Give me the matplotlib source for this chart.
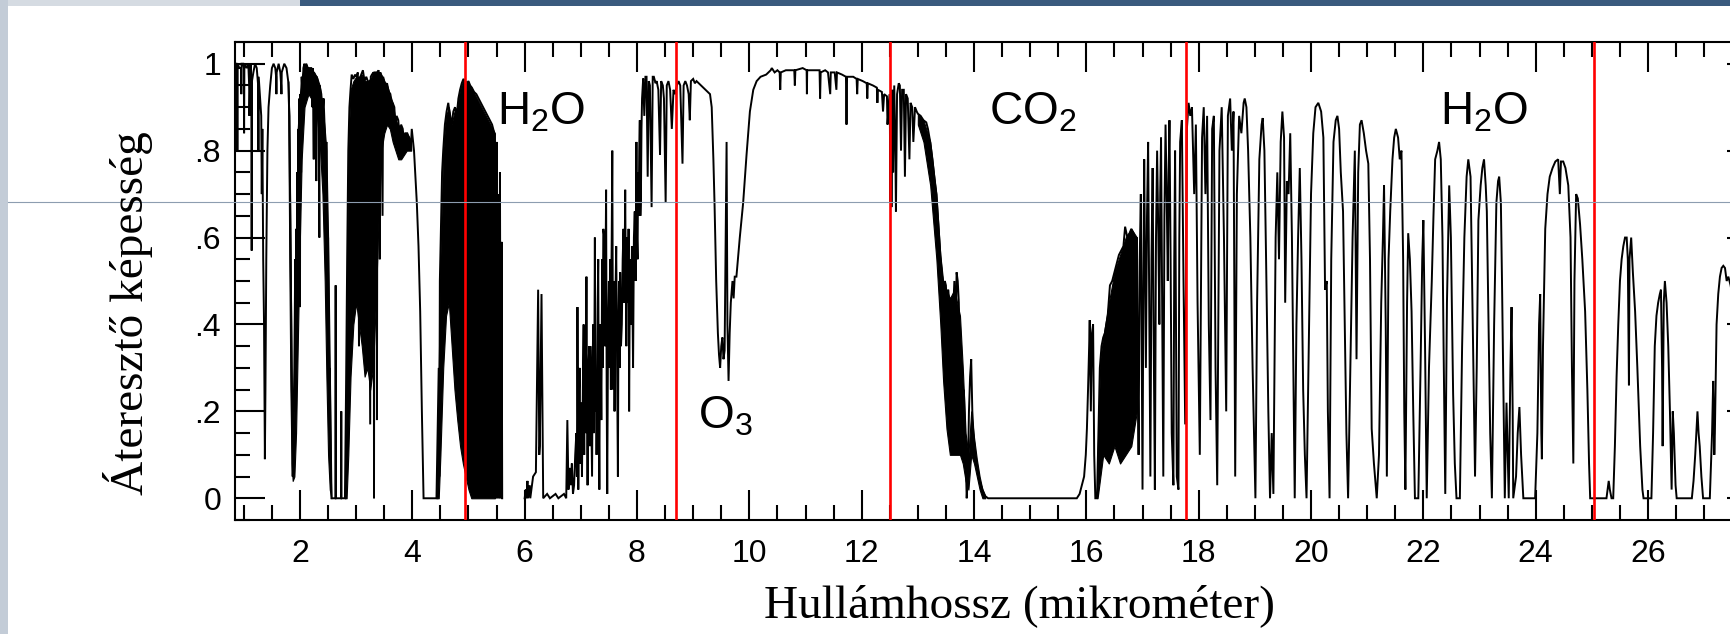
import matplotlib
matplotlib.use("Agg")
import matplotlib.pyplot as plt
from matplotlib.ticker import FixedLocator, FixedFormatter, MultipleLocator
from matplotlib.patches import Rectangle
from matplotlib.lines import Line2D

plt.rcParams['mathtext.fontset'] = 'custom'
plt.rcParams['mathtext.rm'] = 'Liberation Sans'
plt.rcParams['mathtext.it'] = 'Liberation Sans:italic'
plt.rcParams['mathtext.bf'] = 'Liberation Sans:bold'

# ---------------- data (wavelength in micrometre, transmittance) ----------------
nir_pts = [
    (0.843, 1.0), (0.87, 1.0), (0.88, 0.99), (0.885, 0.80), (0.89, 1.0), (0.92, 0.99), (0.95, 0.99),
    (0.955, 0.93), (0.96, 1.0), (0.99, 1.0), (1.00, 0.99), (1.005, 0.84), (1.01, 1.0), (1.05, 0.99),
    (1.08, 1.0), (1.095, 0.95), (1.10, 0.88), (1.12, 1.0), (1.135, 0.95), (1.14, 0.57), (1.145, 0.96),
    (1.17, 0.98), (1.20, 1.0), (1.23, 0.99), (1.255, 0.95), (1.26, 0.80), (1.265, 0.97), (1.29, 0.92),
    (1.31, 0.88), (1.32, 0.70), (1.33, 0.85), (1.345, 0.55), (1.36, 0.40), (1.375, 0.09), (1.385, 0.25),
    (1.40, 0.55), (1.42, 0.80), (1.44, 0.90), (1.47, 0.95), (1.50, 0.99), (1.53, 1.0), (1.56, 0.99),
    (1.575, 0.97), (1.58, 0.93), (1.585, 0.98), (1.62, 1.0), (1.65, 0.98), (1.665, 0.95), (1.67, 0.93),
    (1.675, 0.98), (1.72, 1.0), (1.76, 0.99), (1.79, 0.96), (1.81, 0.88), (1.83, 0.60), (1.85, 0.30),
    (1.87, 0.05), (1.88, 0.15), (1.90, 0.30), (1.915, 0.55), (1.92, 0.20), (1.93, 0.62), (1.94, 0.35),
    (1.95, 0.75), (1.96, 0.45), (1.97, 0.85), (1.98, 0.60), (1.99, 0.92), (2.00, 0.44), (2.005, 0.93),
    (2.02, 0.75), (2.03, 0.97), (2.05, 0.88), (2.06, 0.99), (2.08, 1.0), (2.10, 0.95), (2.11, 1.0),
    (2.14, 0.99), (2.16, 0.93), (2.17, 0.99), (2.20, 0.99), (2.22, 0.90), (2.23, 0.99), (2.245, 0.78),
    (2.25, 0.98), (2.28, 0.97), (2.29, 0.73), (2.30, 0.97), (2.33, 0.95), (2.345, 0.60), (2.35, 0.95),
    (2.38, 0.93), (2.40, 0.88), (2.42, 0.92), (2.44, 0.85), (2.46, 0.70), (2.47, 0.82), (2.49, 0.45),
    (2.50, 0.60), (2.52, 0.20), (2.53, 0.30), (2.55, 0.05), (2.56, 0.0),
]

mwir_pts = [
    (2.63, 0.0), (2.635, 0.49), (2.64, 0.0), (2.73, 0.0), (2.735, 0.20), (2.74, 0.0), (2.80, 0.0),
    (2.82, 0.25), (2.84, 0.55), (2.86, 0.80), (2.88, 0.90), (2.90, 0.94), (2.92, 0.975), (2.95, 0.965),
    (2.98, 0.975), (3.00, 0.97), (3.03, 0.98), (3.05, 0.35), (3.06, 0.965), (3.09, 0.975), (3.12, 0.985),
    (3.15, 0.96), (3.18, 0.97), (3.22, 0.955), (3.25, 0.17), (3.26, 0.97), (3.28, 0.975), (3.31, 0.98),
    (3.318, 0.0), (3.325, 0.98), (3.36, 0.98), (3.37, 0.18), (3.38, 0.98), (3.40, 0.985), (3.42, 0.55),
    (3.43, 0.98), (3.44, 0.975), (3.47, 0.65), (3.48, 0.97), (3.50, 0.96), (3.52, 0.95), (3.55, 0.955),
    (3.58, 0.935), (3.61, 0.93), (3.63, 0.88), (3.65, 0.91), (3.68, 0.90), (3.70, 0.85), (3.72, 0.88),
    (3.75, 0.87), (3.78, 0.82), (3.80, 0.86), (3.83, 0.85), (3.86, 0.80), (3.88, 0.84), (3.91, 0.84),
    (3.94, 0.83), (3.97, 0.80), (3.99, 0.85), (4.03, 0.80), (4.08, 0.68), (4.11, 0.58), (4.14, 0.43),
    (4.17, 0.20), (4.20, 0.0), (4.43, 0.0), (4.45, 0.15), (4.47, 0.30), (4.48, 0.05), (4.49, 0.50),
    (4.51, 0.62), (4.53, 0.75), (4.55, 0.80), (4.58, 0.86), (4.61, 0.89), (4.64, 0.91), (4.67, 0.88),
    (4.70, 0.86), (4.73, 0.89), (4.76, 0.90), (4.79, 0.88), (4.82, 0.92), (4.85, 0.94), (4.88, 0.955),
    (4.91, 0.965), (4.94, 0.96), (4.97, 0.955), (5.00, 0.96), (5.03, 0.95), (5.06, 0.945), (5.10, 0.935),
    (5.14, 0.93), (5.18, 0.92), (5.22, 0.91), (5.26, 0.90), (5.30, 0.89), (5.34, 0.88), (5.38, 0.87),
    (5.42, 0.86), (5.46, 0.84), (5.48, 0.0), (5.50, 0.82), (5.51, 0.0), (5.53, 0.70), (5.545, 0.0),
    (5.56, 0.75), (5.575, 0.0), (5.59, 0.59), (5.60, 0.0),
]

ir6_pts = [
    (6.00, 0.0), (6.02, 0.02), (6.03, 0.0), (6.05, 0.04), (6.06, 0.0), (6.09, 0.03), (6.10, 0.0),
    (6.15, 0.05), (6.20, 0.06), (6.24, 0.48), (6.26, 0.10), (6.27, 0.12), (6.30, 0.47), (6.33, 0.0),
    (6.40, 0.01), (6.45, 0.0), (6.55, 0.01), (6.60, 0.0), (6.70, 0.01), (6.74, 0.0), (6.76, 0.18),
    (6.78, 0.02), (6.80, 0.07), (6.82, 0.03), (6.84, 0.08), (6.86, 0.01), (6.88, 0.03), (6.90, 0.10),
    (6.92, 0.15), (6.93, 0.05), (6.94, 0.44), (6.955, 0.02), (6.97, 0.25), (6.98, 0.30), (6.99, 0.08),
    (7.00, 0.10), (7.01, 0.22), (7.02, 0.05), (7.04, 0.30), (7.05, 0.40), (7.06, 0.10), (7.07, 0.39),
    (7.085, 0.15), (7.10, 0.51), (7.11, 0.20), (7.12, 0.03), (7.135, 0.30), (7.15, 0.35), (7.16, 0.12),
    (7.17, 0.35), (7.185, 0.20), (7.20, 0.05), (7.21, 0.30), (7.22, 0.40), (7.235, 0.15), (7.25, 0.60),
    (7.26, 0.20), (7.27, 0.28), (7.28, 0.10), (7.29, 0.25), (7.30, 0.45), (7.31, 0.55), (7.32, 0.20),
    (7.33, 0.02), (7.34, 0.35), (7.35, 0.40), (7.365, 0.18), (7.38, 0.55), (7.39, 0.30), (7.40, 0.62),
    (7.42, 0.60), (7.43, 0.35), (7.45, 0.71), (7.46, 0.25), (7.47, 0.01), (7.485, 0.40), (7.50, 0.50),
    (7.51, 0.30), (7.52, 0.55), (7.535, 0.25), (7.54, 0.45), (7.55, 0.60), (7.56, 0.80), (7.57, 0.40),
    (7.58, 0.25), (7.59, 0.50), (7.60, 0.20), (7.615, 0.45), (7.63, 0.58), (7.645, 0.30), (7.66, 0.05),
    (7.67, 0.40), (7.68, 0.50), (7.69, 0.30), (7.70, 0.52), (7.715, 0.35), (7.73, 0.40), (7.745, 0.55),
    (7.76, 0.62), (7.775, 0.45), (7.79, 0.71), (7.80, 0.50), (7.81, 0.35), (7.825, 0.60), (7.84, 0.45),
    (7.85, 0.62), (7.86, 0.20), (7.87, 0.45), (7.88, 0.55), (7.895, 0.40), (7.91, 0.58), (7.92, 0.45),
    (7.93, 0.30), (7.945, 0.60), (7.96, 0.66), (7.975, 0.50), (7.99, 0.82), (8.00, 0.60), (8.01, 0.55),
    (8.02, 0.75), (8.03, 0.65), (8.04, 0.80), (8.05, 0.87), (8.06, 0.65), (8.07, 0.70), (8.08, 0.85),
    (8.09, 0.92), (8.11, 0.966), (8.13, 0.88), (8.15, 0.97), (8.17, 0.97), (8.19, 0.74), (8.21, 0.96),
    (8.23, 0.95), (8.26, 0.67), (8.28, 0.97), (8.30, 0.97), (8.33, 0.955), (8.35, 0.96), (8.38, 0.94),
    (8.41, 0.79), (8.43, 0.96), (8.46, 0.95), (8.48, 0.92), (8.51, 0.68), (8.53, 0.95), (8.56, 0.96),
    (8.59, 0.94), (8.62, 0.85), (8.65, 0.94), (8.68, 0.93), (8.71, 0.95), (8.74, 0.96), (8.77, 0.95),
    (8.81, 0.77), (8.83, 0.95), (8.86, 0.96), (8.89, 0.95), (8.92, 0.93), (8.94, 0.87), (8.96, 0.96),
    (9.00, 0.965), (9.03, 0.955), (9.06, 0.96), (9.10, 0.955), (9.14, 0.95), (9.18, 0.945), (9.22, 0.94),
    (9.26, 0.935), (9.30, 0.93), (9.33, 0.90), (9.36, 0.78), (9.38, 0.68), (9.41, 0.50), (9.44, 0.38),
    (9.46, 0.33), (9.48, 0.30), (9.50, 0.35), (9.52, 0.37), (9.54, 0.32), (9.56, 0.34), (9.58, 0.60),
    (9.595, 0.82), (9.61, 0.40), (9.63, 0.27), (9.65, 0.38), (9.67, 0.45), (9.70, 0.50), (9.72, 0.46),
    (9.74, 0.51),
]

window_pts = [
    (9.77, 0.51), (9.83, 0.60), (9.89, 0.68), (9.95, 0.79), (10.01, 0.89), (10.07, 0.94), (10.13, 0.96),
    (10.20, 0.97), (10.30, 0.975), (10.38, 0.985), (10.40, 0.99), (10.45, 0.98), (10.50, 0.985),
    (10.54, 0.98), (10.55, 0.94), (10.56, 0.98), (10.65, 0.985), (10.75, 0.985), (10.80, 0.985),
    (10.81, 0.95), (10.82, 0.985), (10.95, 0.99), (11.02, 0.985), (11.025, 0.93), (11.03, 0.985),
    (11.15, 0.985), (11.25, 0.985), (11.26, 0.92), (11.27, 0.98), (11.35, 0.985), (11.40, 0.98),
    (11.44, 0.93), (11.45, 0.98), (11.52, 0.98), (11.55, 0.94), (11.56, 0.98), (11.65, 0.975),
    (11.72, 0.97), (11.73, 0.86), (11.74, 0.97), (11.85, 0.97), (11.91, 0.965), (11.92, 0.93),
    (11.93, 0.965), (12.02, 0.96), (12.09, 0.955), (12.10, 0.92), (12.11, 0.955), (12.20, 0.95),
    (12.27, 0.945), (12.28, 0.91), (12.29, 0.94), (12.36, 0.935), (12.38, 0.89), (12.40, 0.93),
    (12.45, 0.925), (12.46, 0.86), (12.48, 0.90), (12.50, 0.93), (12.51, 0.68), (12.52, 0.90),
    (12.53, 0.67), (12.545, 0.94), (12.56, 0.75), (12.58, 0.95), (12.60, 0.80), (12.61, 0.66),
    (12.63, 0.93), (12.66, 0.955), (12.68, 0.95), (12.70, 0.80), (12.72, 0.94), (12.75, 0.94),
    (12.77, 0.74), (12.79, 0.93), (12.82, 0.92), (12.85, 0.78), (12.87, 0.91), (12.90, 0.90),
    (12.92, 0.82), (12.95, 0.90), (12.98, 0.89),
]

co2_pts = [
    (13.00, 0.885), (13.05, 0.88), (13.10, 0.87), (13.15, 0.865), (13.18, 0.85), (13.22, 0.82),
    (13.26, 0.78), (13.30, 0.73), (13.33, 0.70), (13.36, 0.64), (13.40, 0.56), (13.44, 0.50),
    (13.46, 0.44), (13.48, 0.50), (13.50, 0.49), (13.52, 0.35), (13.54, 0.48), (13.56, 0.45),
    (13.58, 0.12), (13.60, 0.44), (13.62, 0.40), (13.65, 0.50), (13.67, 0.35), (13.69, 0.52),
    (13.71, 0.50), (13.73, 0.45), (13.75, 0.30), (13.78, 0.20), (13.80, 0.15), (13.82, 0.25),
    (13.85, 0.10), (13.87, 0.0), (13.89, 0.05), (13.91, 0.20), (13.93, 0.28), (13.95, 0.32),
    (13.97, 0.20), (13.99, 0.15), (14.02, 0.10), (14.06, 0.07), (14.10, 0.04), (14.15, 0.02),
    (14.20, 0.005), (14.25, 0.0), (15.83, 0.0), (15.88, 0.01), (15.92, 0.03), (15.96, 0.05),
    (15.99, 0.10), (16.01, 0.16), (16.03, 0.25), (16.05, 0.35), (16.06, 0.41), (16.08, 0.20),
    (16.10, 0.38), (16.12, 0.40), (16.14, 0.10), (16.16, 0.0), (16.19, 0.0),
]

far_pts = [
    (16.21, 0.12), (16.24, 0.30), (16.27, 0.35), (16.30, 0.37), (16.33, 0.38), (16.38, 0.42),
    (16.42, 0.49), (16.46, 0.50), (16.50, 0.52), (16.54, 0.54), (16.58, 0.56), (16.62, 0.57),
    (16.66, 0.58), (16.69, 0.625), (16.73, 0.60), (16.77, 0.61), (16.80, 0.62), (16.84, 0.61),
    (16.87, 0.55), (16.90, 0.60), (16.915, 0.30), (16.93, 0.10), (16.95, 0.55), (16.97, 0.70),
    (16.985, 0.35), (17.00, 0.02), (17.015, 0.50), (17.03, 0.78), (17.045, 0.55), (17.06, 0.30),
    (17.08, 0.65), (17.10, 0.82), (17.12, 0.45), (17.14, 0.05), (17.16, 0.55), (17.18, 0.76),
    (17.20, 0.35), (17.22, 0.02), (17.24, 0.60), (17.26, 0.80), (17.28, 0.62), (17.30, 0.40),
    (17.315, 0.70), (17.33, 0.83), (17.35, 0.45), (17.37, 0.05), (17.39, 0.65), (17.41, 0.86),
    (17.43, 0.70), (17.45, 0.50), (17.465, 0.75), (17.48, 0.87), (17.50, 0.55), (17.52, 0.15),
    (17.55, 0.03), (17.565, 0.55), (17.58, 0.80), (17.595, 0.40), (17.61, 0.05), (17.64, 0.02),
    (17.655, 0.60), (17.67, 0.82), (17.70, 0.87), (17.73, 0.50), (17.76, 0.17), (17.79, 0.85),
    (17.82, 0.91), (17.85, 0.88), (17.88, 0.90), (17.92, 0.70), (17.95, 0.86), (17.98, 0.45),
    (18.02, 0.10), (18.06, 0.83), (18.09, 0.90), (18.12, 0.70), (18.15, 0.88), (18.18, 0.40),
    (18.21, 0.18), (18.24, 0.85), (18.27, 0.88), (18.30, 0.30), (18.33, 0.03), (18.37, 0.80),
    (18.41, 0.90), (18.45, 0.60), (18.49, 0.20), (18.52, 0.88), (18.56, 0.92), (18.59, 0.80),
    (18.62, 0.89), (18.65, 0.05), (18.68, 0.70), (18.72, 0.88), (18.76, 0.84), (18.80, 0.91),
    (18.82, 0.92), (18.85, 0.90), (18.88, 0.80), (18.92, 0.60), (18.96, 0.30), (19.01, 0.0),
    (19.04, 0.45), (19.08, 0.78), (19.12, 0.86), (19.14, 0.875), (19.17, 0.80), (19.20, 0.55),
    (19.24, 0.20), (19.27, 0.0), (19.30, 0.15), (19.33, 0.01), (19.37, 0.60), (19.40, 0.75),
    (19.43, 0.55), (19.46, 0.82), (19.49, 0.89), (19.52, 0.83), (19.54, 0.45), (19.57, 0.73),
    (19.60, 0.70), (19.63, 0.84), (19.66, 0.60), (19.69, 0.25), (19.71, 0.0), (19.74, 0.40),
    (19.77, 0.60), (19.80, 0.76), (19.83, 0.55), (19.86, 0.25), (19.89, 0.10), (19.92, 0.0),
    (19.96, 0.35), (20.00, 0.70), (20.04, 0.84), (20.08, 0.90), (20.13, 0.91), (20.18, 0.89),
    (20.22, 0.83), (20.25, 0.48), (20.28, 0.50), (20.30, 0.20), (20.33, 0.0), (20.36, 0.55),
    (20.40, 0.82), (20.44, 0.87), (20.47, 0.88), (20.50, 0.85), (20.53, 0.75), (20.57, 0.66),
    (20.60, 0.40), (20.63, 0.15), (20.66, 0.0), (20.70, 0.30), (20.74, 0.60), (20.78, 0.80),
    (20.81, 0.32), (20.84, 0.75), (20.87, 0.86), (20.90, 0.87), (20.94, 0.84), (20.98, 0.80),
    (21.02, 0.77), (21.05, 0.55), (21.08, 0.16), (21.12, 0.08), (21.17, 0.0), (21.21, 0.10),
    (21.25, 0.45), (21.28, 0.60), (21.30, 0.72), (21.33, 0.40), (21.35, 0.05), (21.38, 0.55),
    (21.41, 0.66), (21.45, 0.78), (21.48, 0.83), (21.51, 0.85), (21.55, 0.83), (21.58, 0.78),
    (21.61, 0.80), (21.64, 0.55), (21.66, 0.20), (21.68, 0.02), (21.71, 0.45), (21.73, 0.61),
    (21.76, 0.55), (21.79, 0.43), (21.82, 0.20), (21.85, 0.0), (21.91, 0.0), (21.95, 0.30),
    (21.98, 0.55), (22.00, 0.64), (22.03, 0.35), (22.06, 0.0), (22.10, 0.30), (22.15, 0.50),
    (22.18, 0.65), (22.21, 0.78), (22.25, 0.80), (22.28, 0.82), (22.31, 0.78), (22.34, 0.60),
    (22.36, 0.35), (22.39, 0.01), (22.42, 0.45), (22.46, 0.72), (22.49, 0.60), (22.53, 0.24),
    (22.56, 0.08), (22.59, 0.0), (22.65, 0.0), (22.69, 0.35), (22.73, 0.60), (22.77, 0.74),
    (22.80, 0.78), (22.84, 0.74), (22.88, 0.40), (22.92, 0.05), (22.95, 0.30), (22.98, 0.64),
    (23.02, 0.72), (23.05, 0.76), (23.08, 0.78), (23.11, 0.72), (23.13, 0.66), (23.16, 0.40),
    (23.19, 0.15), (23.22, 0.0), (23.26, 0.40), (23.30, 0.68), (23.33, 0.73), (23.35, 0.74),
    (23.38, 0.68), (23.40, 0.50), (23.43, 0.20), (23.45, 0.0), (23.48, 0.22), (23.52, 0.0),
    (23.55, 0.30), (23.57, 0.44), (23.59, 0.20), (23.60, 0.0), (23.65, 0.05), (23.68, 0.15),
    (23.71, 0.21), (23.74, 0.10), (23.78, 0.0), (23.99, 0.0), (24.03, 0.15), (24.06, 0.40),
    (24.08, 0.47), (24.10, 0.15), (24.11, 0.09), (24.13, 0.35), (24.17, 0.62), (24.21, 0.70),
    (24.25, 0.74), (24.30, 0.76), (24.35, 0.775), (24.40, 0.78), (24.43, 0.70), (24.45, 0.775),
    (24.49, 0.775), (24.53, 0.76), (24.58, 0.72), (24.62, 0.60), (24.645, 0.30), (24.67, 0.08),
    (24.69, 0.50), (24.72, 0.70), (24.75, 0.69), (24.79, 0.63), (24.83, 0.55), (24.88, 0.43),
    (24.92, 0.25), (24.95, 0.08), (24.97, 0.0), (25.26, 0.0), (25.29, 0.03), (25.30, 0.04),
    (25.32, 0.02), (25.35, 0.0), (25.38, 0.0), (25.41, 0.12), (25.44, 0.28), (25.47, 0.40),
    (25.50, 0.50), (25.53, 0.55), (25.56, 0.58), (25.59, 0.60), (25.62, 0.60), (25.64, 0.55),
    (25.66, 0.26), (25.67, 0.55), (25.70, 0.60), (25.73, 0.52), (25.77, 0.43), (25.81, 0.30),
    (25.86, 0.12), (25.90, 0.02), (25.92, 0.0), (26.06, 0.0), (26.09, 0.15), (26.12, 0.35),
    (26.15, 0.42), (26.18, 0.45), (26.21, 0.47), (26.23, 0.48), (26.25, 0.30), (26.26, 0.12),
    (26.28, 0.45), (26.30, 0.50), (26.33, 0.45), (26.36, 0.35), (26.39, 0.20), (26.42, 0.02),
    (26.44, 0.20), (26.46, 0.15), (26.49, 0.03), (26.51, 0.0), (26.78, 0.0), (26.81, 0.04),
    (26.84, 0.10), (26.86, 0.15), (26.88, 0.20), (26.90, 0.15), (26.92, 0.12), (26.95, 0.05),
    (26.98, 0.0), (27.10, 0.0), (27.14, 0.15), (27.16, 0.27), (27.18, 0.10), (27.19, 0.15),
    (27.22, 0.40), (27.25, 0.47), (27.28, 0.51), (27.31, 0.53), (27.34, 0.535), (27.37, 0.53),
    (27.40, 0.50), (27.43, 0.51), (27.47, 0.49), (27.52, 0.45), (27.58, 0.35), (27.65, 0.20),
    (27.70, 0.05), (27.75, 0.0), (27.95, 0.0),
]

# dense (unresolved) absorption-line regions: (wavelength, upper, lower)
band_2um = [(1.79, 0.96, 0.90), (1.81, 0.88, 0.55), (1.83, 0.60, 0.25), (1.85, 0.30, 0.08),
            (1.87, 0.06, 0.04), (1.90, 0.30, 0.05), (1.93, 0.62, 0.15), (1.96, 0.85, 0.35),
            (1.99, 0.92, 0.55), (2.03, 0.97, 0.78), (2.08, 1.0, 0.90), (2.15, 0.99, 0.93),
            (2.20, 0.99, 0.92), (2.25, 0.98, 0.90), (2.30, 0.97, 0.88), (2.35, 0.95, 0.82),
            (2.40, 0.90, 0.70), (2.44, 0.85, 0.50), (2.47, 0.80, 0.28), (2.50, 0.60, 0.10),
            (2.53, 0.30, 0.02), (2.56, 0.0, 0.0)]
band_3um = [(2.80, 0.0, 0.0), (2.83, 0.40, 0.0), (2.86, 0.80, 0.10), (2.90, 0.94, 0.28),
            (2.95, 0.96, 0.40), (3.00, 0.97, 0.45), (3.05, 0.97, 0.40), (3.10, 0.975, 0.35),
            (3.15, 0.96, 0.28), (3.20, 0.96, 0.30), (3.25, 0.965, 0.25), (3.30, 0.975, 0.30),
            (3.35, 0.98, 0.45), (3.40, 0.98, 0.65), (3.45, 0.975, 0.80), (3.50, 0.96, 0.84),
            (3.55, 0.95, 0.86), (3.60, 0.93, 0.85), (3.65, 0.91, 0.82), (3.70, 0.87, 0.80),
            (3.75, 0.86, 0.78), (3.80, 0.85, 0.78), (3.85, 0.84, 0.79), (3.90, 0.84, 0.80),
            (3.95, 0.83, 0.80), (3.98, 0.82, 0.80)]
band_5um = [(4.43, 0.0, 0.0), (4.47, 0.30, 0.0), (4.50, 0.55, 0.10), (4.55, 0.80, 0.30),
            (4.60, 0.88, 0.42), (4.65, 0.90, 0.45), (4.70, 0.86, 0.35), (4.75, 0.89, 0.25),
            (4.80, 0.90, 0.18), (4.85, 0.94, 0.12), (4.90, 0.96, 0.08), (4.95, 0.96, 0.05),
            (5.00, 0.955, 0.02), (5.05, 0.945, 0.0), (5.47, 0.84, 0.0)]
band_14um = [(13.00, 0.885, 0.86), (13.10, 0.87, 0.82), (13.22, 0.82, 0.72), (13.33, 0.70, 0.55),
             (13.40, 0.56, 0.40), (13.45, 0.50, 0.27), (13.51, 0.48, 0.16), (13.57, 0.46, 0.10),
             (13.65, 0.48, 0.10), (13.75, 0.42, 0.10), (13.80, 0.30, 0.08), (13.85, 0.15, 0.04),
             (13.90, 0.10, 0.02), (13.95, 0.20, 0.10), (14.00, 0.14, 0.08), (14.05, 0.09, 0.05),
             (14.10, 0.05, 0.02), (14.15, 0.02, 0.0), (14.20, 0.005, 0.0)]
band_16um = [(16.20, 0.10, 0.0), (16.25, 0.32, 0.05), (16.30, 0.37, 0.10), (16.40, 0.45, 0.08),
             (16.50, 0.52, 0.12), (16.60, 0.56, 0.08), (16.70, 0.60, 0.10), (16.80, 0.62, 0.12),
             (16.90, 0.60, 0.20)]

red_lines = [4.94, 8.69, 12.51, 17.77, 25.03]

x_ticks = [2, 4, 6, 8, 10, 12, 14, 16, 18, 20, 22, 24, 26]
x_tick_labels = ['2', '4', '6', '8', '10', '12', '14', '16', '18', '20', '22', '24', '26']
y_ticks = [0, 0.2, 0.4, 0.6, 0.8, 1.0]
y_tick_labels = ['0', '.2', '.4', '.6', '.8', '1']

# molecule labels: (text, wavelength of left edge, transmittance of baseline)
molecule_labels = [
    (r'H$_2$O', 5.50, 0.859),
    (r'CO$_2$', 14.27, 0.859),
    (r'H$_2$O', 22.29, 0.859),
    (r'O$_3$', 9.09, 0.161),
]

# ---------------- figure ----------------
W, H = 1731, 634
fig = plt.figure(figsize=(W / 100, H / 100), dpi=100, facecolor='white')

# slide background remnants
fig.add_artist(Rectangle((0, 1 - 6 / H), 1, 6 / H, transform=fig.transFigure,
                         facecolor='#3a5a7e', edgecolor='none', zorder=0))
fig.add_artist(Rectangle((0, 1 - 6 / H), 300 / W, 6 / H, transform=fig.transFigure,
                         facecolor='#d5dbe2', edgecolor='none', zorder=0))
fig.add_artist(Rectangle((0, 0), 8 / W, 1, transform=fig.transFigure,
                         facecolor='#c3ccd7', edgecolor='none', zorder=0))

ax_left, ax_right, ax_bottom, ax_top = 235, 1757, 520, 42
ax = fig.add_axes([ax_left / W, (H - ax_bottom) / H, (ax_right - ax_left) / W,
                   (ax_bottom - ax_top) / H])
ax.set_facecolor('none')
ax.set_xlim(0.843, 27.94)
ax.set_ylim(-0.05, 1.05)

# guide line of the slide
fig.add_artist(Line2D([8 / W, 1], [(H - 202) / H] * 2, transform=fig.transFigure,
                      color='#8d9db0', lw=0.8, zorder=0.5))


def unzip(pts):
    return [p[0] for p in pts], [p[1] for p in pts]


line_groups = [nir_pts + mwir_pts, ir6_pts + window_pts + co2_pts + far_pts]
for grp in line_groups:
    xs, ys = unzip(grp)
    ax.plot(xs, ys, color='black', lw=1.4, zorder=2, solid_joinstyle='miter')

for band in [band_2um, band_3um, band_5um, band_14um, band_16um]:
    bx = [b[0] for b in band]
    bh = [b[1] for b in band]
    bl = [b[2] for b in band]
    ax.fill_between(bx, bl, bh, color='black', lw=0.8, zorder=2)

for xr in red_lines:
    ax.axvline(xr, color='#ff0000', lw=1.9, zorder=3)

for (txt, x0, y0) in molecule_labels:
    ax.text(x0, y0, txt, ha='left', va='baseline', fontsize=33,
            family='Liberation Sans', color='black', zorder=4)

# axes styling
for sp in ax.spines.values():
    sp.set_linewidth(1.5)
    sp.set_color('black')

ax.xaxis.set_major_locator(FixedLocator(x_ticks))
ax.xaxis.set_major_formatter(FixedFormatter(x_tick_labels))
ax.xaxis.set_minor_locator(MultipleLocator(0.5))
ax.yaxis.set_major_locator(FixedLocator(y_ticks))
ax.yaxis.set_major_formatter(FixedFormatter(y_tick_labels))
ax.yaxis.set_minor_locator(MultipleLocator(0.05))

ax.tick_params(which='both', direction='in', top=True, right=True, width=1.5, color='black')
ax.tick_params(which='major', length=21.5)
ax.tick_params(which='minor', length=10.8)
ax.tick_params(axis='x', which='major', pad=14, labelsize=23)
ax.tick_params(axis='y', which='major', pad=10, labelsize=23)
for lab in ax.get_xticklabels() + ax.get_yticklabels():
    lab.set_family('Liberation Sans')

fig.text(1020 / W, (H - 617) / H, 'Hullámhossz (mikrométer)', ha='center', va='baseline',
         fontsize=34, family='Liberation Serif')
fig.text(128 / W, (H - 313.5) / H, 'Áteresztő képesség', ha='center', va='center',
         rotation=90, fontsize=34, family='Liberation Serif')

fig.savefig('out.png', dpi=100, facecolor='white')
